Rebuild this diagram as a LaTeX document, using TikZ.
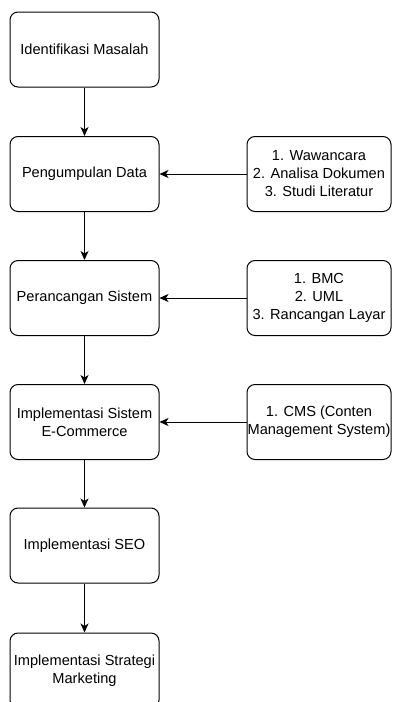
\documentclass[tikz,border=0pt]{standalone}
\usepackage{fontspec}
\setmainfont{Liberation Sans}
\usetikzlibrary{arrows.meta}
\begin{document}
\begin{tikzpicture}[x=1pt,y=-1pt,
  box/.style={draw=black,line width=1pt,rounded corners=8pt,align=center,
    font=\fontsize{14.6}{18}\selectfont,inner sep=0pt},
  lbox/.style={box,minimum width=149pt,minimum height=75pt},
  rbox/.style={box,minimum width=144pt,minimum height=75pt},
  arr/.style={draw=black,line width=1pt,-{Stealth[length=9pt,width=8pt,inset=2.5pt]}}]
\useasboundingbox (0,0) rectangle (392,702);
\node[lbox] (b1) at (84.5,49.5) {Identifikasi Masalah};
\node[lbox] (b2) at (84.5,174) {Pengumpulan Data};
\node[lbox] (b3) at (84.5,298) {Perancangan Sistem};
\node[lbox] (b4) at (84.5,422) {Implementasi Sistem\\E-Commerce};
\node[lbox] (b5) at (84.5,545.5) {Implementasi SEO};
\node[lbox] (b6) at (84.5,670.5) {Implementasi Strategi\\Marketing};
\node[rbox] (r1) at (319,174) {1. Wawancara\\2. Analisa Dokumen\\3. Studi Literatur};
\node[rbox] (r2) at (319,298) {1. BMC\\2. UML\\3. Rancangan Layar};
\node[rbox] (r3) at (319,422) {1. CMS (Conten\\Management System)};
\draw[arr] (b1) -- (b2);
\draw[arr] (b2) -- (b3);
\draw[arr] (b3) -- (b4);
\draw[arr] (b4) -- (b5);
\draw[arr] (b5) -- (b6);
\draw[arr] (r1) -- (b2);
\draw[arr] (r2) -- (b3);
\draw[arr] (r3) -- (b4);
\end{tikzpicture}
\end{document}
